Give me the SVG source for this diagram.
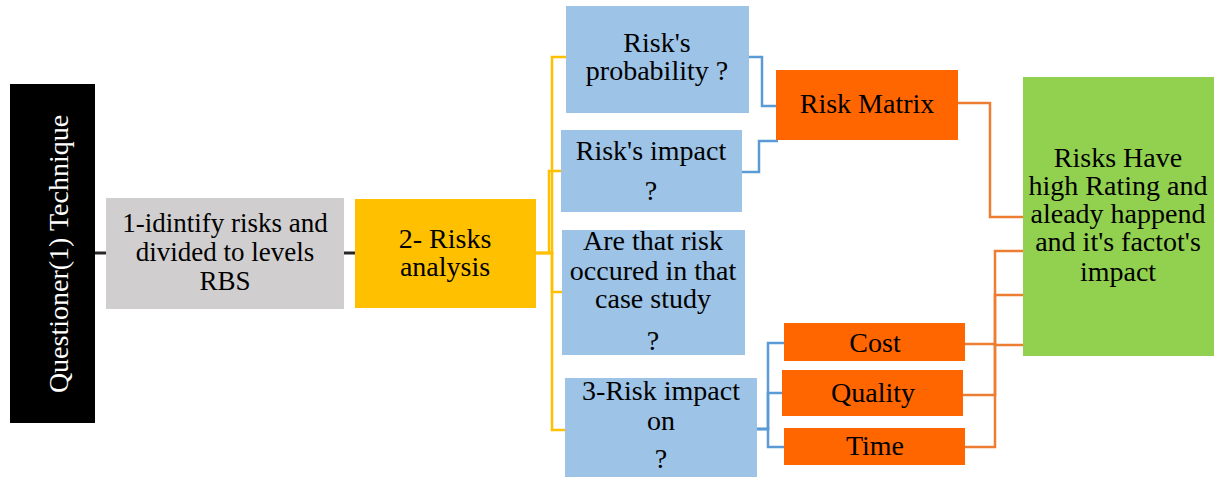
<svg xmlns="http://www.w3.org/2000/svg" width="1216" height="477" viewBox="0 0 1216 477">
<defs>
<style>
text{font-family:"Times New Roman","Liberation Serif","DejaVu Serif",serif;font-size:28px;font-weight:400;fill:#000;text-anchor:middle}
.w{fill:#fff}
.g27{font-size:27px}
.blk{stroke:#262626;stroke-width:3;fill:none}
.yl{stroke:#FFC000;stroke-width:2.5;fill:none}
.bl{stroke:#5B9BD5;stroke-width:2.5;fill:none}
.or{stroke:#ED7D31;stroke-width:2.5;fill:none}
.blue{fill:#9DC3E6}
.orange{fill:#FF6600}
</style>
</defs>
<rect width="1216" height="477" fill="#fff"/>
<g id="connectors">
<path class="blk" d="M95 253H106"/>
<path class="blk" d="M344 253H355"/>
<path class="yl" d="M536 253H552V57H566"/>
<path class="yl" d="M536 253H549V171H561"/>
<path class="yl" d="M536 253H552V292H562"/>
<path class="yl" d="M536 253H552V430H565"/>
<path class="bl" d="M749 57H762V106H776"/>
<path class="bl" d="M742 172H759V141H778"/>
<path class="bl" d="M757 429H768V343H784"/>
<path class="bl" d="M757 429H768V393H782"/>
<path class="bl" d="M757 429H768V447H784"/>
<path class="or" d="M958 103H990V217H1023"/>
<path class="or" d="M965 344H995V345H1023"/>
<path class="or" d="M963 395H995V295H1023"/>
<path class="or" d="M965 447H995V251H1023"/>
</g>
<g id="questioner">
<rect x="10" y="84" width="85" height="339" fill="#000"/>
<text class="w" transform="translate(68,254) rotate(-90)">Questioner(1) Technique</text>
</g>
<g id="identify">
<rect x="106" y="198" width="238" height="111" fill="#D0CECE"/>
<text class="g27" x="225" y="232">1-idintify risks and</text>
<text class="g27" x="225" y="261">divided to levels</text>
<text class="g27" x="225" y="290">RBS</text>
</g>
<g id="analysis">
<rect x="355" y="199" width="181" height="109" fill="#FFC000"/>
<text x="445" y="248">2- Risks</text>
<text x="445" y="276">analysis</text>
</g>
<g id="probability">
<rect class="blue" x="566" y="6" width="183" height="107"/>
<text x="657" y="52">Risk's</text>
<text x="657" y="80">probability ?</text>
</g>
<g id="impact">
<rect class="blue" x="561" y="130" width="181" height="82"/>
<text x="651" y="160">Risk's impact</text>
<text x="651" y="200">?</text>
</g>
<g id="occured">
<rect class="blue" x="562" y="230" width="183" height="125"/>
<text x="653" y="250">Are that risk</text>
<text x="653" y="280">occured in that</text>
<text x="653" y="308">case study</text>
<text x="653" y="350">?</text>
</g>
<g id="impact-on">
<rect class="blue" x="565" y="378" width="192" height="99"/>
<text x="661" y="400">3-Risk impact</text>
<text x="661" y="430">on</text>
<text x="661" y="468">?</text>
</g>
<g id="matrix">
<rect class="orange" x="776" y="70" width="182" height="70"/>
<text x="867" y="113">Risk Matrix</text>
</g>
<g id="cost">
<rect class="orange" x="784" y="323" width="181" height="38"/>
<text x="875" y="352">Cost</text>
</g>
<g id="quality">
<rect class="orange" x="782" y="370" width="181" height="46"/>
<text x="873" y="402">Quality</text>
</g>
<g id="time">
<rect class="orange" x="784" y="428" width="181" height="37"/>
<text x="875" y="455">Time</text>
</g>
<g id="result">
<rect x="1023" y="77" width="191" height="279" fill="#92D050"/>
<text x="1118" y="167">Risks Have</text>
<text x="1118" y="195">high Rating and</text>
<text x="1118" y="223">aleady happend</text>
<text x="1118" y="251">and it's factot's</text>
<text x="1118" y="281">impact</text>
</g>
</svg>
